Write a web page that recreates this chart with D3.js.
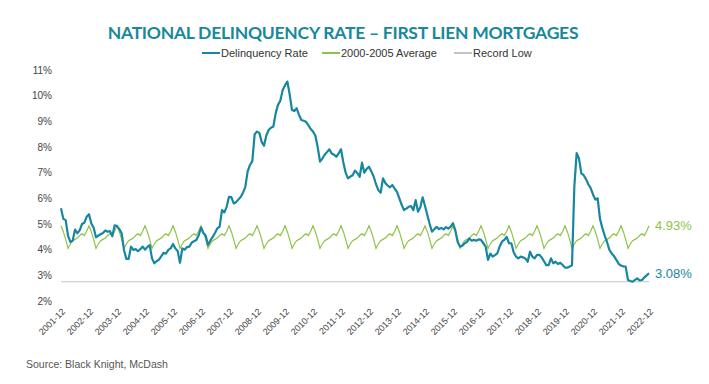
<!DOCTYPE html>
<html>
<head>
<meta charset="utf-8">
<script src="https://cdn.jsdelivr.net/npm/d3@7"></script>
<style>
  body { margin: 0; background: #fff; }
  text { font-family: "Liberation Sans", Arial, sans-serif; }
</style>
</head>
<body>
<svg id="chart" width="709" height="384"></svg>
<script>
///////////////////////////////////////////////////////////
// Data (monthly, 2001-12 .. 2022-12)

const firstMonth = new Date(2001, 11, 1);
const lastMonth = new Date(2022, 11, 1);

const delinquencyRate = [
  5.61,
  5.20, 5.15, 4.55, 4.30, 4.35, 4.78, 4.64, 4.75, 5.00, 5.05, 5.28, 5.38, // 2002
  5.02, 4.85, 4.48, 4.55, 4.60, 4.65, 4.75, 4.70, 4.72, 4.52, 4.95, 4.92, // 2003
  4.80, 4.64, 3.99, 3.64, 3.64, 4.12, 3.99, 4.02, 3.94, 4.02, 4.12, 4.00, // 2004
  4.10, 4.18, 3.66, 3.47, 3.55, 3.61, 3.75, 3.88, 3.85, 3.99, 4.05, 4.22, // 2005
  4.05, 3.95, 3.49, 4.05, 4.00, 4.10, 4.12, 4.27, 4.33, 4.38, 4.55, 4.86, // 2006
  4.65, 4.55, 4.18, 4.35, 4.50, 4.65, 4.83, 4.90, 5.54, 5.45, 5.67, 6.06, // 2007
  6.05, 5.80, 5.85, 5.95, 6.05, 6.22, 6.45, 7.05, 7.30, 7.45, 8.50, 8.60, // 2008
  8.55, 8.20, 8.05, 8.45, 8.66, 8.75, 8.80, 9.31, 9.64, 9.80, 10.22, 10.40, // 2009
  10.55, 10.05, 9.44, 9.40, 9.51, 9.25, 9.05, 9.02, 8.98, 8.85, 8.70, 8.60, // 2010
  8.45, 8.00, 7.43, 7.55, 7.70, 7.80, 7.91, 7.75, 7.70, 7.62, 7.75, 7.91, // 2011
  7.40, 7.00, 6.78, 6.85, 6.90, 7.08, 6.98, 6.84, 7.39, 7.00, 7.15, 7.23, // 2012
  7.05, 6.85, 6.55, 6.32, 6.22, 6.78, 6.60, 6.50, 6.43, 6.52, 6.38, 6.25, // 2013
  6.00, 5.75, 5.54, 5.60, 5.67, 5.70, 5.54, 5.93, 5.48, 5.65, 6.04, 5.70, // 2014
  5.35, 5.00, 4.70, 4.80, 4.89, 4.80, 4.85, 4.79, 4.88, 4.82, 4.90, 5.03, // 2015
  4.75, 4.30, 4.12, 4.15, 4.25, 4.30, 4.44, 4.35, 4.38, 4.35, 4.40, 4.38, // 2016
  4.25, 4.12, 3.60, 3.85, 3.73, 3.79, 3.86, 4.12, 4.31, 4.38, 4.50, 4.25, // 2017
  4.25, 3.90, 3.73, 3.66, 3.73, 3.70, 3.66, 3.53, 3.92, 3.73, 3.66, 3.80, // 2018
  3.80, 3.70, 3.55, 3.40, 3.40, 3.66, 3.47, 3.53, 3.44, 3.49, 3.40, 3.30, // 2019
  3.30, 3.34, 3.39, 6.45, 7.76, 7.55, 6.97, 6.90, 6.75, 6.55, 6.40, 6.15, // 2020
  5.95, 6.00, 5.20, 4.85, 4.55, 4.30, 4.00, 3.85, 3.75, 3.60, 3.45, 3.38, // 2021
  3.35, 3.34, 2.82, 2.78, 2.75, 2.82, 2.88, 2.80, 2.82, 2.92, 3.00, 3.08  // 2022
];

// 2000-2005 average, by calendar month (Jan .. Dec)
const avgByMonth = [4.70, 4.40, 4.05, 4.22, 4.35, 4.40, 4.45, 4.55, 4.62, 4.55, 4.72, 4.93];

const recordLow = 2.75;

const tickLabels = [
  "2001-12", "2002-12", "2003-12", "2004-12", "2005-12", "2006-12", "2007-12",
  "2008-12", "2009-12", "2010-12", "2011-12", "2012-12", "2013-12", "2014-12",
  "2015-12", "2016-12", "2017-12", "2018-12", "2019-12", "2020-12", "2021-12", "2022-12"
];

const yTicks = [2, 3, 4, 5, 6, 7, 8, 9, 10, 11];

///////////////////////////////////////////////////////////
// Setup

const teal = "#17879f";
const green = "#8fc24a";
const grey = "#c4c4c4";

const svg = d3.select("#chart");
const fmtMonth = d3.timeFormat("%Y-%m");

const months = d3.timeMonth.range(firstMonth, d3.timeMonth.offset(lastMonth, 1)).map(fmtMonth);

const x = d3.scalePoint().domain(months).range([61, 649]);
const y = d3.scaleLinear().domain([2, 11]).range([301, 70]);

const rateData = months.map((m, i) => ({ m, v: delinquencyRate[i] }));
const avgData = months.map(m => ({ m, v: avgByMonth[+m.slice(5) - 1] }));

///////////////////////////////////////////////////////////
// Title + legend

const title = svg.append("text")
  .attr("x", 343)
  .attr("y", 39)
  .attr("text-anchor", "middle")
  .style("font-family", "Lato, 'Open Sans', sans-serif")
  .style("font-weight", 700)
  .style("font-size", "17.5px")
  .attr("fill", "#18889b")
  .text("NATIONAL DELINQUENCY RATE – FIRST LIEN MORTGAGES");

// stretch title to the reference width
const tw = title.node().getComputedTextLength();
title.style("letter-spacing", ((471 - tw) / 46) + "px");

const legendItems = [
  { label: "Delinquency Rate", color: teal, x: 202 },
  { label: "2000-2005 Average", color: green, x: 322 },
  { label: "Record Low", color: grey, x: 454 }
];

const legend = svg.append("g").selectAll("g")
  .data(legendItems)
  .enter().append("g")
  .attr("transform", d => `translate(${d.x},53)`);

legend.append("line")
  .attr("x1", 0).attr("x2", 18)
  .attr("stroke", d => d.color)
  .attr("stroke-width", 2);

legend.append("text")
  .attr("x", 19)
  .attr("dy", "0.35em")
  .style("font-size", "11px")
  .attr("fill", "#333")
  .text(d => d.label);

///////////////////////////////////////////////////////////
// Axes

const yAxis = svg.append("g")
  .attr("transform", "translate(61,0)")
  .call(d3.axisLeft(y).tickValues(yTicks).tickFormat(d => d + "%").tickSize(0).tickPadding(9));
yAxis.select(".domain").remove();
yAxis.selectAll("text")
  .style("font-size", "10px")
  .style("font-family", "'Liberation Sans', Arial, sans-serif")
  .attr("fill", "#444");

const xAxis = svg.append("g")
  .attr("transform", "translate(0,301)")
  .call(d3.axisBottom(x).tickValues(tickLabels).tickSize(0));
xAxis.select(".domain").remove();
xAxis.selectAll("text")
  .attr("x", 0)
  .attr("y", 0)
  .attr("dy", "0.35em")
  .attr("text-anchor", "end")
  .attr("transform", "translate(2,9) rotate(-45)")
  .style("font-size", "9px")
  .style("font-family", "'Liberation Sans', Arial, sans-serif")
  .attr("fill", "#444");

///////////////////////////////////////////////////////////
// Lines

svg.append("line")
  .attr("x1", x(months[0]))
  .attr("x2", x(months[months.length - 1]))
  .attr("y1", y(recordLow))
  .attr("y2", y(recordLow))
  .attr("stroke", grey)
  .attr("stroke-width", 1.2);

const line = d3.line()
  .x(d => x(d.m))
  .y(d => y(d.v));

svg.append("path")
  .datum(avgData)
  .attr("fill", "none")
  .attr("stroke", green)
  .attr("stroke-width", 1.2)
  .attr("d", line);

svg.append("path")
  .datum(rateData)
  .attr("fill", "none")
  .attr("stroke", teal)
  .attr("stroke-width", 2.2)
  .attr("stroke-linejoin", "round")
  .attr("d", line);

// end labels
const endLabels = [
  { v: avgData[avgData.length - 1].v, color: green },
  { v: rateData[rateData.length - 1].v, color: teal }
];

svg.selectAll(".end-label")
  .data(endLabels)
  .enter().append("text")
  .attr("class", "end-label")
  .attr("x", 655)
  .attr("y", d => y(d.v))
  .attr("dy", "0.35em")
  .style("font-size", "13px")
  .attr("fill", d => d.color)
  .text(d => d3.format(".2f")(d.v) + "%");

///////////////////////////////////////////////////////////
// Source

svg.append("text")
  .attr("x", 26)
  .attr("y", 368)
  .style("font-size", "10.5px")
  .attr("fill", "#555")
  .text("Source: Black Knight, McDash");
</script>
</body>
</html>
